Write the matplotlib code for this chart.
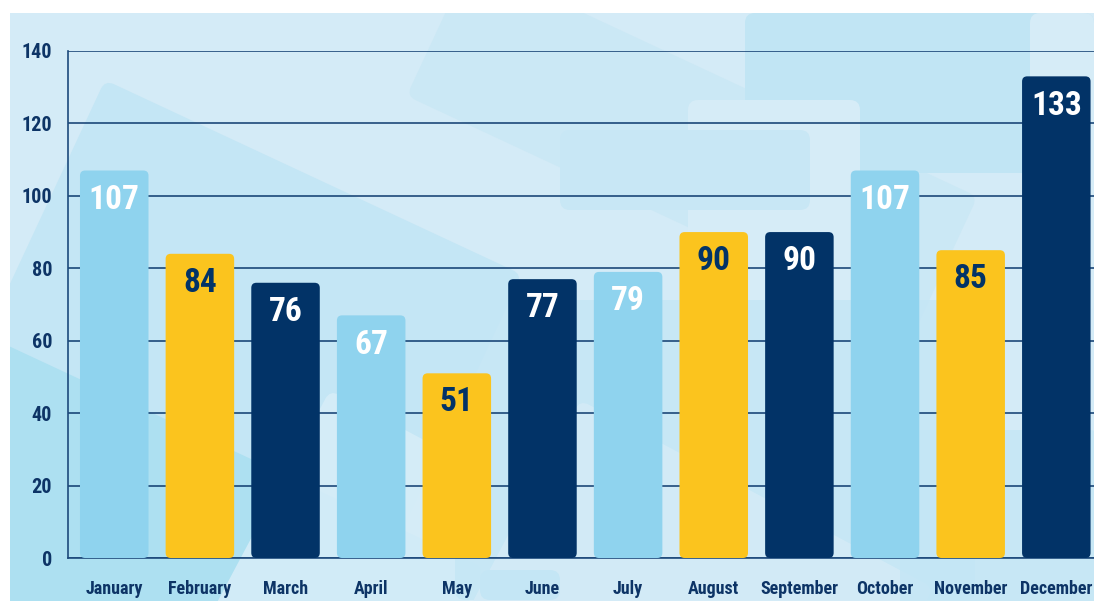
import numpy as np
import matplotlib.pyplot as plt
from matplotlib.patches import FancyBboxPatch
import matplotlib.transforms as mtransforms

months = ['January', 'February', 'March', 'April', 'May', 'June',
          'July', 'August', 'September', 'October', 'November', 'December']
values = [107, 84, 76, 67, 51, 77, 79, 90, 90, 107, 85, 133]
yticks = [0, 20, 40, 60, 80, 100, 120, 140]

light = '#8fd3ee'
yellow = '#fbc41e'
navy = '#023367'
palette = [light, yellow, navy]
label_col = {light: 'white', yellow: navy, navy: 'white'}
txt_col = '#0d3466'

plt.rcParams['font.family'] = ['Roboto Condensed', 'Roboto', 'DejaVu Sans']
plt.rcParams['font.weight'] = 'bold'

fig = plt.figure(figsize=(10.94, 6.01), dpi=100)
fig.patch.set_facecolor('white')

# decorative background, pixel units inside the coloured panel
bg = fig.add_axes([10 / 1094, 0, 1084 / 1094, 588 / 601], zorder=-1)
bg.set_xlim(10, 1094)
bg.set_ylim(601, 13)
bg.set_facecolor('#d4ebf7')
bg.set_xticks([])
bg.set_yticks([])
for s in bg.spines.values():
    s.set_visible(False)

def deco(x, y, w, h, ang, col, alpha=1.0):
    p = FancyBboxPatch((x, y), w, h, boxstyle='round,pad=0,rounding_size=10',
                       fc=col, ec='none', alpha=alpha)
    bg.add_patch(p)
    p.set_transform(mtransforms.Affine2D().rotate_deg_around(x, y, ang) + bg.transData)

deco(105, 80, 460, 360, 25, '#c4e6f5')
deco(-150, 272, 700, 400, 25, '#ade0f1')
deco(470, -40, 560, 150, 25, '#cbe8f5')
deco(330, 390, 300, 400, 28, '#d6edf8', 0.9)
deco(745, 13, 300, 160, 0, '#c1e5f4')
deco(688, 100, 172, 400, 0, '#d6ecf7')
deco(860, 13, 234, 150, 0, '#c1e5f4')
deco(1030, 13, 64, 300, 0, '#d6ecf7')
deco(560, 130, 250, 80, 0, '#c8e7f5')
deco(455, 300, 520, 300, 0, '#c4e6f5', 0.8)
deco(580, 400, 400, 260, 28, '#d4ebf7', 0.9)
deco(480, 570, 80, 30, 0, '#c4e6f5')
deco(900, 430, 200, 180, 0, '#c4e6f5', 0.8)

ax = fig.add_axes([68 / 1094, 43 / 601, 1 - 68 / 1094, 507 / 601])
ax.patch.set_alpha(0)

x = np.arange(len(months))
cols = [palette[i % 3] for i in range(len(months))]
bars = ax.bar(x, values, width=0.8, color=cols, zorder=3)

# swap plain bars for rounded ones (same geometry)
aspect = 86.0 / (507 / 140)
for b, c, v in zip(bars, cols, values):
    b.set_visible(False)
    r = FancyBboxPatch((b.get_x(), 0), b.get_width(), v,
                       boxstyle='round,pad=0,rounding_size=0.06',
                       mutation_aspect=aspect, fc=c, ec='none', zorder=3)
    ax.add_patch(r)
    ax.annotate(str(v), (b.get_x() + b.get_width() / 2, v), xytext=(0, -21),
                textcoords='offset points', ha='center', va='center',
                fontsize=24, fontweight='bold', color=label_col[c], zorder=4)

ax.set_xlim(-0.54, 11.44)
ax.set_ylim(0, 140)
ax.set_yticks(yticks)
ax.set_xticks(x)
ax.set_xticklabels(months)
ax.grid(axis='y', color='#0d3a6e', lw=1.1, zorder=1)
ax.tick_params(length=0, colors=txt_col)
ax.tick_params(axis='x', pad=15.5, labelsize=13)
ax.tick_params(axis='y', pad=11.5, labelsize=14.5)
for s in ['top', 'right']:
    ax.spines[s].set_visible(False)
for s in ['left', 'bottom']:
    ax.spines[s].set_color('#1d4a7c')
    ax.spines[s].set_linewidth(1.2)

fig.savefig('out.png', dpi=100)
